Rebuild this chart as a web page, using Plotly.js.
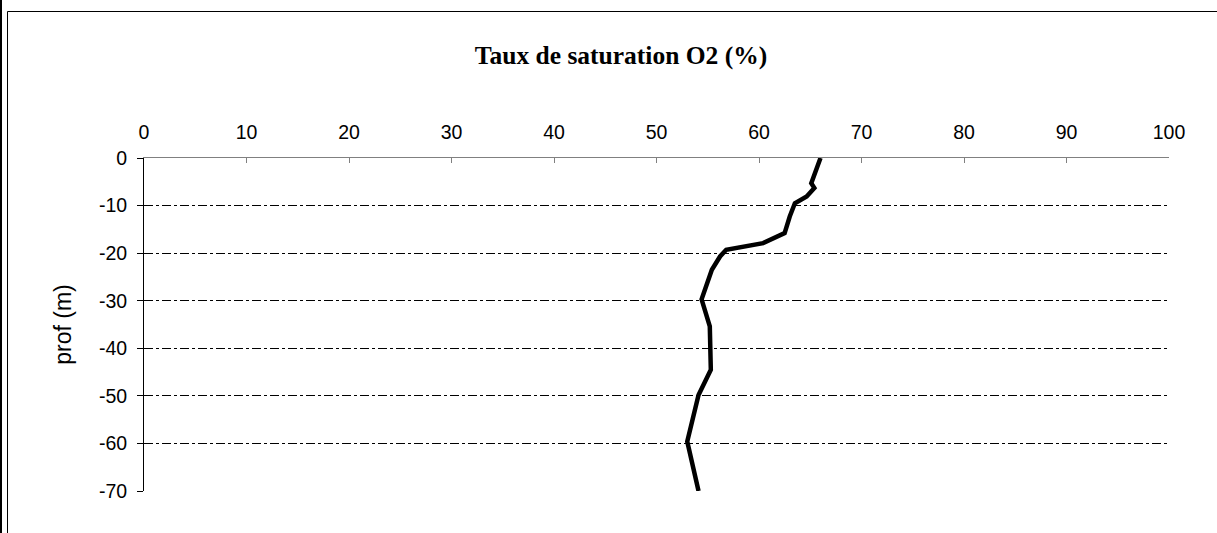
<!DOCTYPE html>
<html><head><meta charset="utf-8">
<script src="https://cdn.plot.ly/plotly-3.0.1.min.js"></script>
<style>html,body{margin:0;padding:0;background:#fff;}#chart{width:1217px;height:533px;}</style>
</head><body><div id="chart"></div>
<script>
const saturation = [66.0, 65.6, 65.1, 65.4, 64.65, 63.5, 63.0, 62.5, 60.4, 56.8, 56.2, 55.4, 54.4, 55.2, 55.3, 54.1, 53.0, 54.1];
const depth      = [0, -2.5, -5.3, -6.3, -8.1, -9.5, -12.3, -15.8, -17.9, -19.3, -20.7, -23.5, -29.7, -35.4, -44.5, -49.8, -59.6, -70];
const xTicks = [0,10,20,30,40,50,60,70,80,90,100];
const yTicks = [0,-10,-20,-30,-40,-50,-60,-70];

const L=144, R=48, T=158, B=42, W=1217, H=533;
const pw=W-L-R, ph=H-T-B;
const px = v => (v-L)/pw;
const py = v => (H-B-v)/ph;

Plotly.newPlot('chart', [{
  x: saturation, y: depth, type:'scatter', mode:'lines',
  line:{color:'#000', width:4.5}, showlegend:false, hoverinfo:'skip'
}], {
  width:W, height:H,
  margin:{l:L, r:R, t:T, b:B, pad:0},
  paper_bgcolor:'#fff', plot_bgcolor:'#fff',
  font:{family:'Liberation Sans, Arial, sans-serif', size:19.5, color:'#000'},
  title:{text:'<b>Taux de saturation O2 (%)</b>', font:{family:'Liberation Serif, Times New Roman, serif', size:25.5, color:'#000'},
         x:621/W, xref:'container', xanchor:'center', y:1-55/H, yref:'container', yanchor:'middle'},
  xaxis:{side:'top', range:[0,100], tickvals:xTicks, ticktext:xTicks.map(String),
         ticks:'inside', ticklen:5, tickcolor:'#808080', showline:true, linecolor:'#808080', linewidth:1.5,
         showgrid:false, zeroline:false, ticklabelstandoff:10, fixedrange:true},
  yaxis:{range:[-70,0], tickvals:yTicks, ticktext:yTicks.map(String),
         ticks:'outside', ticklen:6, tickcolor:'#000', showline:true, linecolor:'#000', linewidth:1,
         showgrid:true, gridcolor:'#000', gridwidth:1, griddash:'dashdot', zeroline:false,
         ticklabelstandoff:6,
         title:{text:'prof (m)', font:{size:23, family:'Liberation Sans, Arial, sans-serif'}, standoff:20}, fixedrange:true},
  shapes:[
    {type:'rect', xref:'paper', yref:'paper', x0:px(7.5), x1:px(1230), y0:py(11.5), y1:py(560), line:{color:'#000', width:1}, layer:'below'},
    {type:'line', xref:'paper', yref:'paper', x0:px(1), x1:px(1), y0:py(0), y1:py(560), line:{color:'#000', width:2}}
  ]
}, {staticPlot:true, displayModeBar:false});
</script></body></html>
